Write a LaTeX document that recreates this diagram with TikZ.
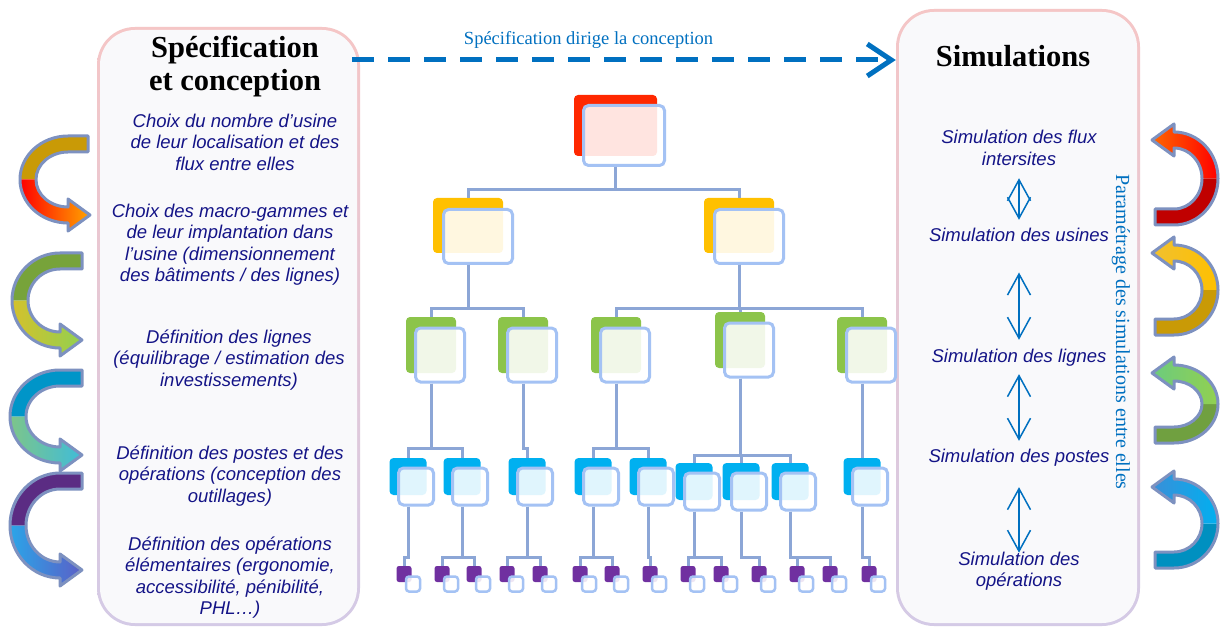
\documentclass[tikz,border=0pt]{standalone}
\usepackage{fontspec}
\setmainfont{Liberation Serif}
\setsansfont{Liberation Sans}
\usetikzlibrary{positioning,arrows.meta,calc}
\definecolor{spNavy}{RGB}{20,20,135}
\definecolor{spBlue}{RGB}{0,112,192}
\definecolor{spLink}{RGB}{140,166,214}
\definecolor{spRim}{RGB}{164,194,244}
\definecolor{spSlate}{RGB}{125,145,192}
\definecolor{spPanel}{RGB}{249,249,251}
\definecolor{spPink}{RGB}{245,198,198}
\definecolor{spSage}{RGB}{214,232,184}
\definecolor{spLilac}{RGB}{212,202,230}
\definecolor{boxRed}{RGB}{255,40,0}
\definecolor{boxGold}{RGB}{255,192,0}
\definecolor{boxGreen}{RGB}{140,196,74}
\definecolor{boxBlue}{RGB}{0,176,240}
\definecolor{boxPurple}{RGB}{112,48,160}
\definecolor{twGold}{RGB}{201,154,6}
\definecolor{twRed}{RGB}{255,0,0}
\definecolor{twOrange}{RGB}{255,165,0}
\definecolor{twOlive}{RGB}{119,163,58}
\definecolor{twYellow}{RGB}{212,193,44}
\definecolor{twLime}{RGB}{146,208,80}
\definecolor{twTeal}{RGB}{0,149,200}
\definecolor{twMint}{RGB}{125,197,138}
\definecolor{twCyan}{RGB}{64,188,216}
\definecolor{twPurple}{RGB}{91,44,131}
\definecolor{twSky}{RGB}{43,165,232}
\definecolor{twIndigo}{RGB}{91,95,199}
\definecolor{twDarkRed}{RGB}{192,0,0}
\definecolor{twFlame}{RGB}{255,102,0}
\definecolor{twAmber}{RGB}{240,192,48}
\definecolor{twSun}{RGB}{255,192,0}
\definecolor{twGreen}{RGB}{112,160,64}
\definecolor{twSea}{RGB}{108,203,126}
\definecolor{twAzure}{RGB}{58,143,216}
\definecolor{twBright}{RGB}{0,176,240}
\definecolor{twDeep}{RGB}{0,144,192}
\tikzset{
    panelrim/.style={rectangle, rounded corners=38pt, top color=spPink, middle color=spSage,
                     bottom color=spLilac, inner sep=0pt},
    panelin/.style={rectangle, rounded corners=35pt, fill=spPanel, inner sep=0pt},
    title/.style={font=\fontsize{30.5}{33}\selectfont\bfseries, align=center, inner sep=0pt},
    stage/.style={font=\sffamily\itshape\fontsize{18.5}{21.5}\selectfont, text=spNavy,
                  align=center, inner sep=0pt},
    backbox/.style={rectangle, rounded corners=4pt, inner sep=0pt, draw=none},
    frontbox/.style={rectangle, rounded corners=5pt, inner sep=0pt, draw=spRim, line width=3pt,
                     fill=white, fill opacity=0.88},
    lvla/.style={minimum width=83pt, minimum height=61pt},
    lvlaf/.style={minimum width=81pt, minimum height=60pt},
    lvlb/.style={minimum width=70pt, minimum height=55pt},
    lvlbf/.style={minimum width=69pt, minimum height=54pt},
    lvlc/.style={minimum width=50pt, minimum height=56pt},
    lvlcf/.style={minimum width=49pt, minimum height=54pt},
    lvld/.style={minimum width=37pt, minimum height=37pt},
    lvldf/.style={minimum width=35pt, minimum height=37pt},
    lvle/.style={minimum width=15pt, minimum height=16pt, rounded corners=2.5pt},
    lvlef/.style={minimum width=14pt, minimum height=15pt, rounded corners=3pt, line width=2.5pt},
    link/.style={draw=spLink, line width=3pt},
    simlink/.style={{Straight Barb[length=21pt,width=23pt]}-{Straight Barb[length=21pt,width=23pt]},
                    draw=spBlue, line width=1.5pt},
    specarrow/.style={-{Straight Barb[length=24pt,width=32pt]}, draw=spBlue, line width=5pt,
                      dash pattern=on 22pt off 14pt},
    twistrim/.style={draw=spSlate, line width=3pt, line join=round}
}
% one box of the tree: name, position, level, colour, offset of the front card
\newcommand{\orgbox}[5]{%
    \node[backbox, #3, fill=#4] (#1) at (#2) {};
    \node[frontbox, #3f] (f#1) at ($(#1.center)+(#5)$) {};
}
% curved u-turn arrow: cx, cy, rx, ry, tail, rotation, tail colour, left/right shade
\newcommand{\twistarrow}[9]{%
    \begin{scope}[shift={(#1,#2)}, rotate=#6]
        \pgfmathsetmacro\ao{#3+8}\pgfmathsetmacro\ai{#3-8}
        \pgfmathsetmacro\bo{#4+8}\pgfmathsetmacro\bi{#4-8}
        \pgfmathsetmacro\hy{#4}
        \fill[#7] (#5,-\bo) -- (0,-\bo) .. controls ({-0.552*\ao},-\bo) and (-\ao,{-0.552*\bo}) .. (-\ao,0)
            -- (-\ai,0) .. controls (-\ai,{-0.552*\bi}) and ({-0.552*\ai},-\bi) .. (0,-\bi) -- (#5,-\bi) -- cycle;
        \shade[left color=#8, right color=#9] (-\ao,0) .. controls (-\ao,{0.552*\bo}) and ({-0.552*\ao},\bo) .. (0,\bo)
            -- (0,{\hy+16}) -- (22,\hy) -- (0,{\hy-16}) -- (0,\bi)
            .. controls ({-0.552*\ai},\bi) and (-\ai,{0.552*\bi}) .. (-\ai,0) -- cycle;
        \draw[twistrim] (#5,-\bo) -- (0,-\bo) .. controls ({-0.552*\ao},-\bo) and (-\ao,{-0.552*\bo}) .. (-\ao,0)
            .. controls (-\ao,{0.552*\bo}) and ({-0.552*\ao},\bo) .. (0,\bo)
            -- (0,{\hy+16}) -- (22,\hy) -- (0,{\hy-16}) -- (0,\bi)
            .. controls ({-0.552*\ai},\bi) and (-\ai,{0.552*\bi}) .. (-\ai,0)
            .. controls (-\ai,{-0.552*\bi}) and ({-0.552*\ai},-\bi) .. (0,-\bi) -- (#5,-\bi) -- cycle;
    \end{scope}}

\begin{document}
\begin{tikzpicture}[x=1pt, y=-1pt]
  \useasboundingbox (0,0) rectangle (1223,628);
  \fill[white] (0,0) rectangle (1223,628);

  % the two panels
  \node[panelrim, minimum width=263pt, minimum height=599pt] (specpanel) at (228.5,326.5) {};
  \node[panelin, minimum width=257pt, minimum height=593pt] at (specpanel) {};
  \node[panelrim, minimum width=244pt, minimum height=617pt] (simpanel) at (1018,317.5) {};
  \node[panelin, minimum width=238pt, minimum height=611pt] at (simpanel) {};

  \node[title] (spec) at (235,66.4) {Spécification\\et conception};
  \node[title] (simu) at (1013,56) {Simulations};

  \coordinate (dashStart) at (352,60);
  \coordinate (dashEnd) at (simpanel.west |- dashStart);
  \draw[specarrow] (dashStart) -- node[pos=0.435, above=8pt, inner sep=1pt, text=spBlue,
      font=\fontsize{18.5}{22}\selectfont] (drive) {Spécification dirige la conception} (dashEnd);

  % design steps
  \node[stage] (d1) at (235,142) {Choix du nombre d’usine\\de leur localisation et des\\flux entre elles};
  \node[stage] (d2) at (230,244.5) {Choix des macro-gammes et\\de leur implantation dans\\l’usine (dimensionnement\\des bâtiments / des lignes)};
  \node[stage] (d3) at (229,360) {Définition des lignes\\(équilibrage / estimation des\\investissements)};
  \node[stage] (d4) at (230,476) {Définition des postes et des\\opérations (conception des\\outillages)};
  \node[stage] (d5) at (230,577.5) {Définition des opérations\\élémentaires (ergonomie,\\accessibilité, pénibilité,\\PHL…)};

  % simulations
  \node[stage] (s1) at (1019,148) {Simulation des flux\\intersites};
  \node[stage] (s2) at (1019,234.5) {Simulation des usines};
  \node[stage] (s3) at (1019,357.3) {Simulation des lignes};
  \node[stage] (s4) at (1019,457.3) {Simulation des postes};
  \node[stage] (s5) at (1019,571) {Simulation des\\opérations};
  \foreach \a/\b/\s/\e in {s1/s2/12.5/7.7, s2/s3/31/8.7, s3/s4/8/7.7, s4/s5/21/-1.3}
    \draw[simlink, shorten <=\s pt, shorten >=\e pt] (\a.south) -- (\b.north);

  \node[rotate=-90, text=spBlue, font=\fontsize{20}{24}\selectfont, inner sep=0pt] (param)
      at (1121,332) {Paramétrage des simulations entre elles};

  % tree of the system
  \orgbox{t0}{615.5,125.5}{lvla}{boxRed}{8.5,10}
  \foreach \n/\x in {t1/468, t2/739}
    \orgbox{\n}{\x,225.5}{lvlb}{boxGold}{10,11};
  \foreach \n/\x/\y in {g1/431/345, g2/523/345, g3/616/345, g4/740/340, g5/862/345}
    \orgbox{\n}{\x,\y}{lvlc}{boxGreen}{9,10};
  \foreach \n/\x/\y in {b1/408/476.5, b2/462/476.5, b3/527/476.5, b4/593/476.5, b5/648/476.5,
                        b6/694/481.5, b7/741/481.5, b8/790/481.5, b9/862/476.5}
    \orgbox{\n}{\x,\y}{lvld}{boxBlue}{8,10};
  \foreach \n/\x in {p1/404, p2/442, p3/474, p4/507, p5/540, p6/580, p7/612, p8/650,
                     p9/688, p10/721, p11/759, p12/797, p13/830, p14/869}
    \orgbox{\n}{\x,574}{lvle}{boxPurple}{9,10};

  \foreach \p/\c/\by in {t0/t1/190, t0/t2/190,
      t1/g1/308, t1/g2/308, t2/g3/308, t2/g4/308, t2/g5/308,
      g1/b1/448, g1/b2/448, g2/b3/448, g3/b4/448, g3/b5/448,
      g4/b6/455, g4/b7/455, g4/b8/455, g5/b9/448,
      b1/p1/557, b2/p2/557, b2/p3/557, b3/p4/557, b3/p5/557, b4/p6/557, b4/p7/557,
      b5/p8/557, b6/p9/557, b6/p10/557, b7/p11/557, b8/p12/557, b8/p13/557, b9/p14/557}
    \draw[link] (\p.center |- f\p.south) -- (\p.center |- 0,\by) -| (\c.north);

  % loops on the left
  \twistarrow{68}{179.5}{40}{35.5}{20}{0}{twGold}{twRed}{twOrange}
  \twistarrow{60}{300.5}{40}{39.5}{22}{0}{twOlive}{twYellow}{twLime}
  \twistarrow{60}{416.5}{42}{38.5}{22}{0}{twTeal}{twMint}{twCyan}
  \twistarrow{60}{525.5}{42}{44.5}{22}{0}{twPurple}{twSky}{twIndigo}
  % loops on the right
  \twistarrow{1174}{178.5}{36}{38.5}{19}{180}{twDarkRed}{twFlame}{twRed}
  \twistarrow{1174}{290}{36}{37}{19}{180}{twGold}{twAmber}{twSun}
  \twistarrow{1174}{404}{36}{31}{19}{180}{twGreen}{twSea}{twLime}
  \twistarrow{1174}{523.5}{36}{36.5}{19}{180}{twDeep}{twAzure}{twBright}
\end{tikzpicture}
\end{document}
